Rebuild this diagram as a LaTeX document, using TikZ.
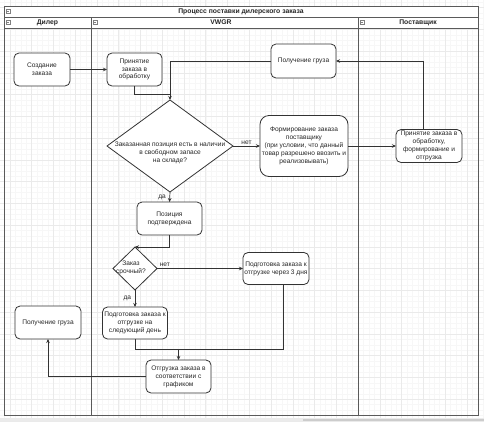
\documentclass[tikz,border=0pt]{standalone}
\usepackage{fontspec}
\setmainfont{Liberation Sans}
\usetikzlibrary{shapes.geometric, arrows.meta, calc}

\definecolor{gridmajor}{HTML}{EAEAEA}
\definecolor{gridminor}{HTML}{F7F7F7}
\definecolor{framegray}{HTML}{5A5A5A}
\definecolor{linegray}{HTML}{333333}

\begin{document}
\begin{tikzpicture}[
    x=1pt, y=-1pt,
    font=\fontsize{6.6}{7.9}\selectfont,
    box/.style={draw=linegray, line width=0.8pt, rounded corners=5pt, fill=white,
        align=center, inner sep=1pt, outer sep=0pt, text=black!85},
    dims/.style 2 args={minimum width=#1pt, minimum height=#2pt},
    decision/.style={draw=linegray, line width=0.8pt, diamond, fill=white,
        inner sep=0pt, outer sep=0pt},
    txt/.style={align=center, inner sep=0pt, text=black!85},
    lbl/.style={inner sep=1.5pt, text=black!85},
    flow/.style={draw=linegray, line width=0.7pt, -{Stealth[length=4pt, width=3.5pt]}},
    plain/.style={draw=linegray, line width=0.7pt},
    lane/.style={draw=framegray, line width=1pt},
    head/.style={font=\fontsize{6.8}{8}\selectfont\bfseries, text=black!85},
    minus/.style={draw=gray, fill=white, minimum size=4pt, inner sep=0pt,
        path picture={\draw[gray, line width=0.5pt]
            ([xshift=0.8pt]path picture bounding box.west) --
            ([xshift=-0.8pt]path picture bounding box.east);}}
]
    \useasboundingbox (0,0) rectangle (484,421);

    % Background grid
    \foreach \gx in {0,...,88} \draw[gridminor, line width=0.4pt] ({4.46+5.44*\gx},0) -- ++(0,421);
    \foreach \gy in {0,...,77} \draw[gridminor, line width=0.4pt] (0,{2.06+5.44*\gy}) -- ++(484,0);
    \foreach \gx in {0,...,21} \draw[gridmajor, line width=0.5pt] ({9.9+21.76*\gx},0) -- ++(0,421);
    \foreach \gy in {0,...,19} \draw[gridmajor, line width=0.5pt] (0,{7.5+21.76*\gy}) -- ++(484,0);
    \fill[black!8] (0,418) rectangle (484,421);
    \fill[black!20] (303,418.5) rectangle (484,421);

    % Pool and lanes
    \fill[white] (4,6) rectangle (478,28);
    \draw[lane] (4,6) rectangle (478,17);
    \draw[lane] (4,17) rectangle (91,415);
    \draw[lane] (91,17) rectangle (358,415);
    \draw[lane] (358,17) rectangle (478,415);
    \draw[lane] (4,28) -- (478,28);

    \node[minus] (iconPool) at (8,11.5) {};
    \node[minus] (iconDealer) at (8,22.5) {};
    \node[minus] (iconVwgr) at (95,22.5) {};
    \node[minus] (iconSupplier) at (362,22.5) {};
    \node[head] (titlePool) at (241,11.5) {Процесс поставки дилерского заказа};
    \node[head] (titleDealer) at (47.5,22.5) {Дилер};
    \node[head] (titleVwgr) at (221,22.5) {VWGR};
    \node[head] (titleSupplier) at (418,22.5) {Поставщик};

    % Process steps
    \node[box, dims={56}{33}] (create) at (42,69.5) {Создание\\заказа};
    \node[box, dims={55}{33}] (accept) at (134.5,69.5) {Принятие\\заказа в\\обработку};
    \node[box, dims={65}{34}] (recvTop) at (303.5,61) {Получение груза};
    \node[decision, dims={126}{92}] (stock) at (170,146) {};
    \node[txt] (stockText) at (170,153) {Заказанная позиция есть в наличии\\в свободном запасе\\на складе?};
    \node[box, rounded corners=9pt, dims={88}{61}] (order) at (304,146)
        {Формирование заказа\\поставщику\\(при условии, что данный\\товар разрешено ввозить и\\реализовывать)};
    \node[box, dims={66}{33}] (supplier) at (429,146) {Принятие заказа в\\обработку,\\формирование и\\отгрузка};
    \node[box, dims={65}{33}] (confirmed) at (169.5,218.5) {Позиция\\подтверждена};
    \node[decision, dims={44}{43}] (urgent) at (135,268.5) {};
    \node[txt] (urgentText) at (131,268) {Заказ\\срочный?};
    \node[box, dims={66}{32}] (late) at (276,268.5) {Подготовка заказа к\\отгрузке через 3 дня};
    \node[box, dims={65}{32}] (next) at (135,323) {Подготовка заказа к\\отгрузке на\\следующий день};
    \node[box, dims={66}{33}] (recvDealer) at (48,322.5) {Получение груза};
    \node[box, dims={65}{33}] (ship) at (178.5,376.5) {Отгрузка заказа в\\соответствии с\\графиком};

    % Connectors
    \coordinate (join) at (170,94);
    \coordinate (merge) at (178.5,349);
    \draw[flow] (create) -- (accept);
    \draw[plain] (accept.south) |- (join);
    \draw[flow] (recvTop.west) -| (stock.north);
    \draw[flow] (stock.east) -- node[lbl, above] {нет} (order.west);
    \draw[flow] (stock.south) -- node[lbl, left, xshift=-2pt] {да} (confirmed.north);
    \draw[flow] (order.east) -- (supplier.west);
    \draw[flow] ([xshift=-6pt]supplier.north) |- (recvTop.east);
    \draw[flow] (confirmed.south) |- (urgent.north);
    \draw[flow] (urgent.east) -- node[lbl, above right, pos=0, xshift=1pt] {нет} (late.west);
    \draw[flow] (urgent.south) -- node[lbl, left, xshift=-2pt] {да} (next.north);
    \draw[plain] (next.south) |- (merge);
    \draw[plain] ([xshift=7pt]late.south) |- (merge);
    \draw[flow] (merge) -- (ship.north);
    \draw[flow] (ship.west) -| (recvDealer.south);
\end{tikzpicture}
\end{document}
